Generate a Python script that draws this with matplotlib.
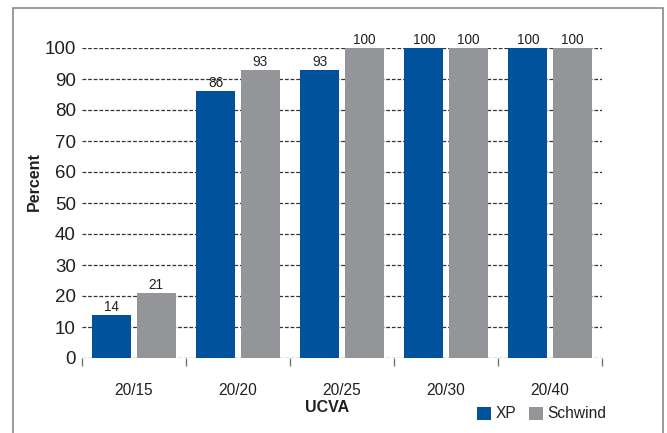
import matplotlib.pyplot as plt
import numpy as np
from matplotlib.patches import Rectangle

plt.rcParams['font.family'] = ['Liberation Sans', 'DejaVu Sans']

# UCVA outcome per laser platform (percent of eyes)
categories = ["20/15", "20/20", "20/25", "20/30", "20/40"]
xp_values = [14, 86, 93, 100, 100]
schwind_values = [21, 93, 100, 100, 100]
y_ticks = [0, 10, 20, 30, 40, 50, 60, 70, 80, 90, 100]

blue = "#00529c"
grey = "#939598"
text_color = "#231f20"

fig = plt.figure(figsize=(6.67, 4.33), dpi=100)
ax = fig.add_axes([82 / 667, 75 / 433, 520 / 667, 310 / 433])

x = np.arange(len(categories))
width = 0.375
offset = 0.212

ax.yaxis.grid(True, linestyle=(0, (3, 1.5)), color="#333333", linewidth=0.9, zorder=0)
ax.set_axisbelow(True)

bars_xp = ax.bar(x - offset, xp_values, width, color=blue, label="XP", zorder=2)
bars_sw = ax.bar(x + offset, schwind_values, width, color=grey, label="Schwind", zorder=2)

# value labels above each bar
for bars, vals in [(bars_xp, xp_values), (bars_sw, schwind_values)]:
    for b, v in zip(bars, vals):
        ax.text(b.get_x() + b.get_width() / 2, v + 0.3, str(v), ha="center", va="bottom",
                fontsize=9.8, color=text_color, zorder=3, clip_on=False)

ax.set_xlim(-0.5, 4.5)
ax.set_ylim(0, 100)
ax.set_yticks(y_ticks)
ax.set_yticklabels([str(t) for t in y_ticks], fontsize=13.5, color=text_color)
ax.tick_params(axis="y", length=0, pad=4.5)

# category labels between boundary tick marks
ax.set_xticks(np.arange(-0.5, 5, 1))
ax.set_xticklabels([])
ax.set_xticks(x, minor=True)
ax.set_xticklabels(categories, minor=True, fontsize=11.2, color=text_color)
ax.tick_params(axis="x", which="major", length=6, width=1, color="#777777", direction="out")
ax.tick_params(axis="x", which="minor", length=0, pad=18)

for s in ax.spines.values():
    s.set_visible(False)

ax.set_ylabel("Percent", fontsize=11.5, fontweight="bold", color=text_color)
ax.yaxis.set_label_coords(42 / 667, 251 / 433, transform=fig.transFigure)
fig.text(327 / 667, 1 - 408 / 433, "UCVA", fontsize=11.5, fontweight="bold",
         color=text_color, ha="center", va="center")

leg = fig.legend(handles=[bars_xp, bars_sw], loc="center left",
                 bbox_to_anchor=(469 / 667, 1 - 414 / 433), ncol=2, frameon=False,
                 fontsize=11.2, handlelength=0.9, handleheight=0.9, handletextpad=0.3,
                 columnspacing=0.8, borderpad=0)
for t in leg.get_texts():
    t.set_color(text_color)

# outer frame
fig.patches.append(Rectangle((13 / 667, -0.1), 650 / 667, 1.1 - 8 / 433,
                             transform=fig.transFigure, fill=False,
                             edgecolor="#8a8a8a", linewidth=1.2))

fig.savefig("out.png", dpi=100)
